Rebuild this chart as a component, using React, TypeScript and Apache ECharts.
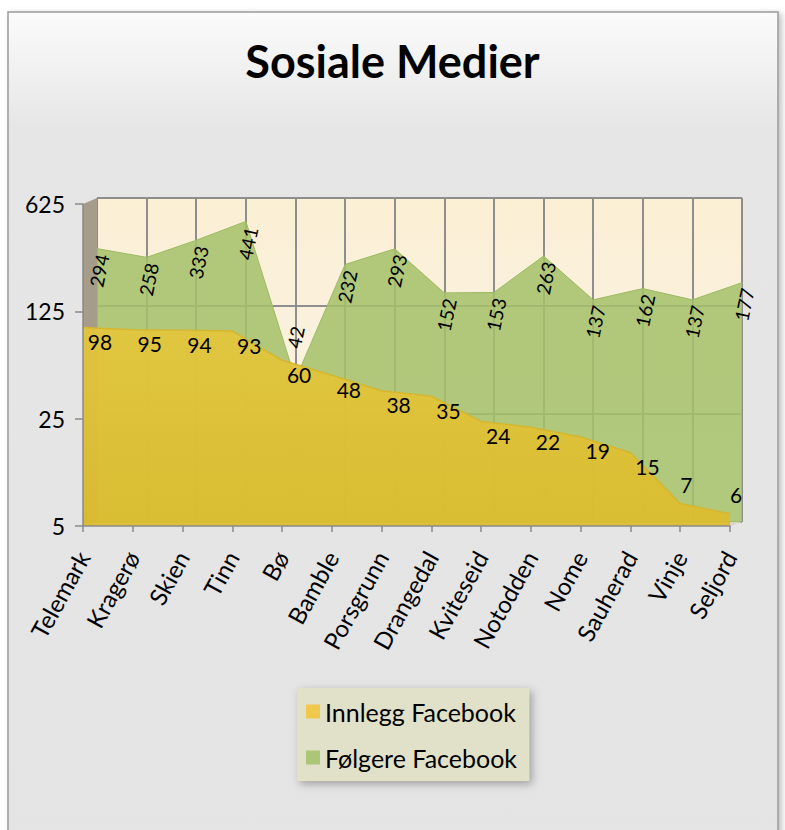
import React, { useEffect, useRef } from "react";
import * as echarts from "echarts";

const categories = ["Telemark", "Kragerø", "Skien", "Tinn", "Bø", "Bamble", "Porsgrunn", "Drangedal", "Kviteseid", "Notodden", "Nome", "Sauherad", "Vinje", "Seljord"];
const innlegg = [98, 95, 94, 93, 60, 48, 38, 35, 24, 22, 19, 15, 7, 6];
const folgere = [294, 258, 333, 441, 42, 232, 293, 152, 153, 263, 137, 162, 137, 177];
const yMin = 5;
const yMax = 625;
const logBase = 5;
const seriesNames = ["Innlegg Facebook", "Følgere Facebook"];
const FONT = "Lato";

// convert a screen-space offset into the rotated label's local frame
function rotatedOffset(dx: number, dy: number, deg: number) {
  const r = (deg * Math.PI) / 180;
  const c = Math.cos(r);
  const s = Math.sin(r);
  return [dx * c - dy * s, dx * s + dy * c];
}

export default function App() {
  const ref = useRef<HTMLDivElement>(null);
  useEffect(() => {
    if (!ref.current) return;
    const chart = echarts.init(ref.current, null, { renderer: "svg" });
    const gridColor = "#8e8e8e";
    const greenRot = 78;
    const option: any = {
      animation: false,
      backgroundColor: "#ffffff",
      textStyle: { fontFamily: FONT },
      title: {
        text: "Sosiale Medier",
        left: "center",
        top: 33,
        textStyle: { fontFamily: FONT, fontWeight: "bold", fontSize: 45, color: "#000" },
      },
      graphic: [
        {
          type: "rect",
          z: -10,
          shape: { x: 8, y: 12, width: 770, height: 830 },
          style: {
            fill: new echarts.graphic.LinearGradient(0, 0, 0, 1, [
              { offset: 0, color: "#fbfbfb" },
              { offset: 0.14, color: "#e6e6e6" },
              { offset: 1, color: "#e4e4e4" },
            ]),
            stroke: "#9a9a9a",
            lineWidth: 1.5,
            shadowBlur: 6,
            shadowColor: "rgba(0,0,0,0.25)",
            shadowOffsetX: 3,
            shadowOffsetY: 2,
          },
        },
        {
          type: "polygon",
          z: 1,
          shape: { points: [[83, 204], [97, 198], [97, 522], [83, 526]] },
          style: { fill: "#a59c89" },
        },
        {
          type: "polygon",
          z: 1,
          shape: { points: [[83, 526], [97, 522], [742, 522], [730, 526]] },
          style: { fill: "#d8d4c8" },
        },
      ],
      legend: {
        orient: "vertical",
        left: 297,
        top: 688,
        icon: "rect",
        itemWidth: 14,
        itemHeight: 14,
        itemGap: 21,
        padding: [11, 12, 11, 9],
        backgroundColor: "#e1e0c9",
        shadowBlur: 8,
        shadowColor: "rgba(0,0,0,0.3)",
        shadowOffsetX: 3,
        shadowOffsetY: 3,
        textStyle: { fontFamily: FONT, fontSize: 25, color: "#000" },
        data: [
          { name: seriesNames[0], itemStyle: { color: "#f0c84c" } },
          { name: seriesNames[1], itemStyle: { color: "#abc676" } },
        ],
      },
      grid: [
        { left: 83, right: 55, top: 204, bottom: 304, containLabel: false },
        {
          left: 97, right: 43, top: 198, bottom: 308, containLabel: false, show: true, borderWidth: 0,
          backgroundColor: new echarts.graphic.LinearGradient(0, 0, 0, 1, [
            { offset: 0, color: "#fbefd4" },
            { offset: 1, color: "#f9f4ea" },
          ]),
        },
      ],
      xAxis: [
        {
          type: "category",
          gridIndex: 0,
          data: categories,
          boundaryGap: false,
          axisLine: { lineStyle: { color: "#8a8a8a", width: 1.5 } },
          axisTick: { show: true, length: 6, interval: 0, lineStyle: { color: "#8a8a8a", width: 1.5 } },
          axisLabel: { interval: 0, rotate: 61, margin: 27, fontSize: 24, color: "#000", fontFamily: FONT },
          splitLine: { show: false },
          z: 4,
        },
        {
          type: "category",
          gridIndex: 1,
          data: categories,
          boundaryGap: false,
          axisLine: { show: false },
          axisTick: { show: false },
          axisLabel: { show: false },
          splitLine: { show: true, interval: 0, lineStyle: { color: gridColor, width: 2 } },
        },
      ],
      yAxis: [
        {
          type: "log",
          logBase,
          gridIndex: 0,
          min: yMin,
          max: yMax,
          axisLine: { show: true, lineStyle: { color: "#8a8a8a", width: 1.5 } },
          axisTick: { show: true, length: 8, lineStyle: { color: "#8a8a8a", width: 1.5 } },
          axisLabel: { fontSize: 23, color: "#000", margin: 18, fontFamily: FONT },
          splitLine: { show: false },
          z: 4,
        },
        {
          type: "log",
          logBase,
          gridIndex: 1,
          min: yMin,
          max: yMax,
          axisLine: { show: false },
          axisTick: { show: false },
          axisLabel: { show: false },
          splitLine: { show: true, lineStyle: { color: gridColor, width: 2 } },
        },
      ],
      series: [
        {
          type: "line",
          name: seriesNames[1],
          xAxisIndex: 1,
          yAxisIndex: 1,
          z: 2,
          silent: true,
          symbol: "circle",
          symbolSize: 1,
          itemStyle: { color: "#9cba62" },
          lineStyle: { color: "#9cba62", width: 1 },
          areaStyle: { color: "#a4c16a", opacity: 0.86, origin: "start" },
          emphasis: { disabled: true },
          label: {
            show: true,
            position: "inside",
            rotate: greenRot,
            align: "center",
            verticalAlign: "middle",
            fontSize: 19,
            color: "#000",
            fontFamily: FONT,
          },
          data: folgere.map((v, i) => ({
            value: v,
            label: {
              offset: v < innlegg[i] ? rotatedOffset(0, -42, greenRot) : rotatedOffset(2, 22, greenRot),
            },
          })),
        },
        {
          type: "line",
          name: seriesNames[0],
          xAxisIndex: 0,
          yAxisIndex: 0,
          z: 3,
          silent: true,
          symbol: "circle",
          symbolSize: 1,
          itemStyle: { color: "#d6b62e" },
          lineStyle: { color: "#d6b62e", width: 1.5 },
          areaStyle: {
            origin: "start",
            opacity: 0.93,
            color: new echarts.graphic.LinearGradient(0, 0, 0, 1, [
              { offset: 0, color: "#e4c63c" },
              { offset: 1, color: "#dcbc2c" },
            ]),
          },
          emphasis: { disabled: true },
          label: {
            show: true,
            position: "inside",
            align: "center",
            verticalAlign: "middle",
            fontSize: 21,
            color: "#000",
            fontFamily: FONT,
          },
          data: innlegg.map((v) => ({
            value: v,
            label: { offset: v < 10 ? [6, -19] : [17, 14] },
          })),
        },
      ],
    };
    chart.setOption(option);
    return () => chart.dispose();
  }, []);
  return (
    <div
      ref={ref}
      style={{ position: "fixed", left: 0, top: 0, width: 785, height: 830 }}
    />
  );
}
